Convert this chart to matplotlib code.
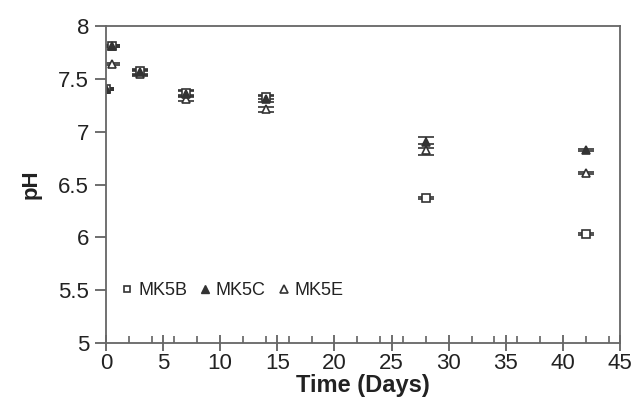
import numpy as np
import matplotlib
matplotlib.use("Agg")
import matplotlib.pyplot as plt
from matplotlib.ticker import MultipleLocator
from matplotlib.lines import Line2D

plt.rcParams['font.family'] = ['Liberation Sans', 'DejaVu Sans']

# sampling days
days = [0, 0.5, 3, 7, 14, 28, 42]

# pH readings
mk5b = [7.40, 7.81, 7.57, 7.37, 7.33, 6.37, 6.03]
mk5c = [7.40, 7.81, 7.56, 7.36, 7.31, 6.90, 6.83]
mk5e = [7.40, 7.64, 7.55, 7.31, 7.21, 6.83, 6.61]

# error bars (small)
err_b = [0.01, 0.01, 0.02, 0.02, 0.02, 0.01, 0.01]
err_c = [0.01, 0.01, 0.02, 0.02, 0.03, 0.05, 0.01]
err_e = [0.01, 0.01, 0.02, 0.02, 0.02, 0.05, 0.01]

col = '#333333'

fig = plt.figure(figsize=(6.34, 4.18), dpi=100)
ax = fig.add_axes([0.167, 0.179, 0.811, 0.759])

kw = dict(linestyle='none', ecolor=col, elinewidth=1.4, capsize=6, capthick=1.4,
          markersize=5.5, markeredgecolor=col, markeredgewidth=1.2)
ax.errorbar(days, mk5b, yerr=err_b, marker='s', markerfacecolor='white', **kw)
ax.errorbar(days, mk5e, yerr=err_e, marker='^', markerfacecolor='white', **kw)
ax.errorbar(days, mk5c, yerr=err_c, marker='^', markerfacecolor=col, **kw)

ax.set_xlim(0, 45)
ax.set_ylim(5, 8)
ax.xaxis.set_major_locator(MultipleLocator(5))
ax.xaxis.set_minor_locator(MultipleLocator(2))
ax.set_yticks([5, 5.5, 6, 6.5, 7, 7.5, 8])
ax.set_yticklabels(['5', '5.5', '6', '6.5', '7', '7.5', '8'])

ax.tick_params(axis='x', which='major', direction='inout', length=12, width=1.2, colors='#555555',
               labelcolor='#222222', labelsize=16, pad=1)
ax.tick_params(axis='x', which='minor', direction='in', length=5, width=1.1, colors='#555555')
ax.tick_params(axis='y', which='major', direction='out', length=8, width=1.2, colors='#555555',
               labelcolor='#222222', labelsize=16, pad=4)

for s in ax.spines.values():
    s.set_color('#666666')
    s.set_linewidth(1.3)

ax.set_xlabel('Time (Days)', fontsize=17, fontweight='bold', color='#222222', labelpad=0)
ax.set_ylabel('pH', fontsize=16, fontweight='bold', color='#222222', labelpad=12)

handles = [
    Line2D([], [], linestyle='none', marker='s', markersize=5, markerfacecolor='white',
           markeredgecolor=col, markeredgewidth=1.2),
    Line2D([], [], linestyle='none', marker='^', markersize=6, markerfacecolor=col,
           markeredgecolor=col),
    Line2D([], [], linestyle='none', marker='^', markersize=6, markerfacecolor='white',
           markeredgecolor=col, markeredgewidth=1.2),
]
leg = ax.legend(handles, ['MK5B', 'MK5C', 'MK5E'], loc='lower left', ncol=3, frameon=False,
                fontsize=13, handletextpad=0.1, columnspacing=0.5, handlelength=1.0,
                borderaxespad=0, bbox_to_anchor=(0.01, 0.115))
for t in leg.get_texts():
    t.set_color('#222222')

fig.savefig('out.png', dpi=100)
